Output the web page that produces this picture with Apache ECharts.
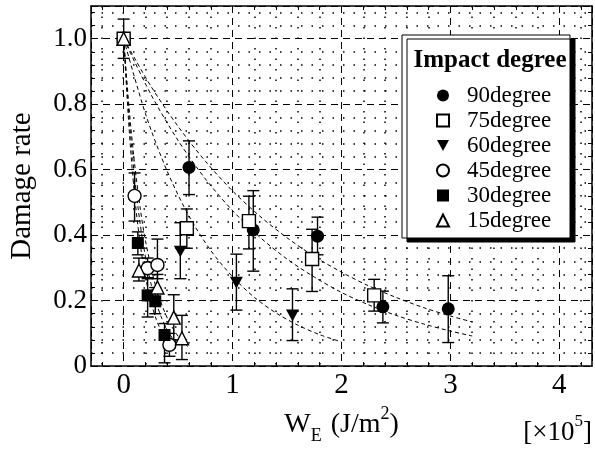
<!DOCTYPE html>
<html>
<head>
<meta charset="utf-8">
<script src="https://cdn.jsdelivr.net/npm/echarts@6/dist/echarts.min.js"></script>
<style>html,body{margin:0;padding:0;background:#fff}#c{width:595px;height:450px}</style>
</head>
<body>
<div id="c"></div>
<script>
// ---- data (x in 1e5 J/m^2, y = damage rate) ----
const seriesNames = ['90degree', '75degree', '60degree', '45degree', '30degree', '15degree'];

const pts90 = [[0, 1.0], [0.60, 0.607], [1.19, 0.416], [1.78, 0.397], [2.38, 0.181], [2.98, 0.175]];
const err90 = [[0, 0.94, 1.06], [0.60, 0.524, 0.688], [1.19, 0.29, 0.536], [1.78, 0.34, 0.455], [2.38, 0.132, 0.229], [2.98, 0.072, 0.276]];

const pts75 = [[0, 1.0], [0.58, 0.421], [1.15, 0.443], [1.73, 0.327], [2.30, 0.216]];
const err75 = [[0.58, 0.36, 0.48], [1.15, 0.358, 0.519], [1.73, 0.228, 0.418], [2.30, 0.168, 0.265]];

const pts60 = [[0, 1.0], [0.52, 0.35], [1.035, 0.255], [1.55, 0.155]];
const err60 = [[0.52, 0.267, 0.438], [1.035, 0.171, 0.342], [1.55, 0.078, 0.236]];

const pts45 = [[0, 1.0], [0.10, 0.52], [0.22, 0.299], [0.31, 0.309], [0.42, 0.065]];
const err45 = [[0.10, 0.443, 0.59], [0.22, 0.27, 0.33], [0.31, 0.267, 0.388], [0.42, 0.03, 0.10]];

const pts30 = [[0, 1.0], [0.13, 0.376], [0.22, 0.216], [0.29, 0.198], [0.375, 0.095]];
const err30 = [[0.13, 0.34, 0.41], [0.22, 0.15, 0.267], [0.29, 0.16, 0.24], [0.375, 0.01, 0.13]];

const pts15 = [[0, 1.0], [0.14, 0.292], [0.31, 0.24], [0.46, 0.148], [0.535, 0.085]];
const err15 = [[0.14, 0.26, 0.33], [0.31, 0.20, 0.28], [0.46, 0.08, 0.218], [0.535, 0.02, 0.155]];

// fitted curves
const fit90 = [[0, 1], [0.25, 0.855], [0.5, 0.732], [0.75, 0.626], [1, 0.535], [1.25, 0.458], [1.5, 0.392], [1.75, 0.335], [2, 0.287], [2.25, 0.245], [2.5, 0.210], [2.75, 0.179], [3, 0.153], [3.2, 0.135]];
const fit75 = [[0, 1], [0.25, 0.830], [0.5, 0.689], [0.75, 0.572], [1, 0.475], [1.25, 0.394], [1.5, 0.327], [1.75, 0.272], [2, 0.225], [2.25, 0.187], [2.5, 0.155], [2.75, 0.129], [3, 0.107], [3.2, 0.092]];
const fit60 = [[0, 1], [0.2, 0.771], [0.4, 0.595], [0.6, 0.458], [0.8, 0.353], [1.0, 0.273], [1.2, 0.210], [1.4, 0.162], [1.6, 0.125], [1.8, 0.096], [2.0, 0.074]];
const fit45 = [[0, 1], [0.05, 0.760], [0.1, 0.577], [0.15, 0.438], [0.2, 0.333], [0.25, 0.253], [0.3, 0.192], [0.35, 0.146], [0.4, 0.111], [0.45, 0.084], [0.5, 0.064]];
const fit30 = [[0, 1], [0.05, 0.723], [0.1, 0.522], [0.15, 0.377], [0.2, 0.273], [0.25, 0.197], [0.3, 0.142], [0.35, 0.103], [0.4, 0.074], [0.45, 0.054]];
const fit15 = [[0, 1], [0.05, 0.787], [0.1, 0.619], [0.15, 0.487], [0.2, 0.383], [0.3, 0.237], [0.4, 0.147], [0.5, 0.091], [0.6, 0.056]];

const xMin = -0.3, xMax = 4.3, yMin = 0, yMax = 1.1;
// ------------------------------------------------

const FONT = '"Liberation Serif","Times New Roman",serif';
const DOWN_TRI = 'path://M0,0 L10,0 L5,9 Z';
const chart = echarts.init(document.getElementById('c'), null, {renderer: 'canvas'});

function errSeries(data) {
  return {
    type: 'custom', xAxisIndex: 0, yAxisIndex: 0, z: 1, silent: true,
    data: data,
    renderItem: function (params, api) {
      const x = api.value(0), lo = api.value(1), hi = api.value(2);
      const a = api.coord([x, lo]), b = api.coord([x, hi]);
      const w = 6;
      const st = {stroke: '#000', lineWidth: 1.4};
      return {type: 'group', children: [
        {type: 'line', shape: {x1: a[0], y1: a[1], x2: b[0], y2: b[1]}, style: st},
        {type: 'line', shape: {x1: a[0] - w, y1: a[1], x2: a[0] + w, y2: a[1]}, style: st},
        {type: 'line', shape: {x1: b[0] - w, y1: b[1], x2: b[0] + w, y2: b[1]}, style: st}
      ]};
    }
  };
}
function fitSeries(data) {
  return {type: 'line', data: data, showSymbol: false, symbol: 'none', smooth: 0.3, z: 1, silent: true,
    lineStyle: {color: '#000', width: 1, type: [4, 3]}};
}
function sc(name, data, symbol, filled, size, z) {
  return {name: name, type: 'scatter', data: data, symbol: symbol, symbolSize: size, z: z,
    symbolKeepAspect: true,
    itemStyle: {color: filled ? '#000' : '#fff', borderColor: '#000', borderWidth: filled ? 0 : 1.4, opacity: 1}};
}

const axisLabelStyle = {color: '#000', fontFamily: FONT, fontSize: 27};

const option = {
  animation: false,
  backgroundColor: '#fff',
  grid: {left: 86, right: 3, top: 6, bottom: 82, containLabel: false},
  xAxis: [{
    type: 'value', min: xMin, max: xMax, splitNumber: 5, minInterval: 1, maxInterval: 1,
    axisLine: {show: true, onZero: false, lineStyle: {color: '#000', width: 1.5}},
    axisTick: {show: true, inside: true, length: 0},
    minorTick: {show: true, splitNumber: 5, length: 4, lineStyle: {color: '#000', width: 1}},
    splitLine: {show: true, lineStyle: {color: '#000', width: 1, type: [7, 5]}},
    minorSplitLine: {show: true, lineStyle: {color: '#000', width: 1.5, type: [1.5, 9]}},
    axisLabel: {show: true, margin: 5, showMinLabel: false, showMaxLabel: false, color: '#000', fontFamily: FONT, fontSize: 29,
      formatter: function (v) { return Math.abs(v - Math.round(v)) < 1e-9 ? String(Math.round(v)) : ''; }},
    name: '{a|W}{s|E}{a| (J/m}{p|2}{a|)}', nameLocation: 'middle', nameGap: 36,
    nameTextStyle: {color: '#000', fontFamily: FONT, fontSize: 28,
      rich: {a: {fontFamily: FONT, fontSize: 28, color: '#000'},
             s: {fontFamily: FONT, fontSize: 18, color: '#000', verticalAlign: 'bottom', padding: [0, 2, 0, 0], lineHeight: 12},
             p: {fontFamily: FONT, fontSize: 18, color: '#000', verticalAlign: 'top', lineHeight: 40}}}
  }, {
    type: 'value', min: xMin, max: xMax, position: 'top', splitNumber: 5, minInterval: 1, maxInterval: 1,
    axisLine: {show: true, onZero: false, lineStyle: {color: '#000', width: 1.5}},
    axisTick: {show: true, inside: true, length: 0},
    minorTick: {show: true, splitNumber: 5, length: 4, lineStyle: {color: '#000', width: 1}},
    splitLine: {show: false}, axisLabel: {show: false}
  }],
  yAxis: [{
    type: 'value', min: yMin, max: yMax, interval: 0.2,
    axisLine: {show: true, onZero: false, lineStyle: {color: '#000', width: 1.5}},
    axisTick: {show: true, inside: true, length: 0},
    minorTick: {show: true, splitNumber: 5, length: 4, lineStyle: {color: '#000', width: 1}},
    splitLine: {show: true, lineStyle: {color: '#000', width: 1, type: [7, 5]}},
    minorSplitLine: {show: true, lineStyle: {color: '#000', width: 1.5, type: [1.5, 9]}},
    axisLabel: {margin: 4, showMaxLabel: false, ...axisLabelStyle,
      formatter: function (v) { return v === 0 ? '0' : (v > 1.05 ? '' : v.toFixed(1)); }},
    name: 'Damage rate', nameLocation: 'middle', nameGap: 54,
    nameTextStyle: {color: '#000', fontFamily: FONT, fontSize: 29}
  }, {
    type: 'value', min: yMin, max: yMax, interval: 0.2, position: 'right',
    axisLine: {show: true, onZero: false, lineStyle: {color: '#000', width: 1.5}},
    axisTick: {show: true, inside: true, length: 0},
    minorTick: {show: true, splitNumber: 5, length: 4, lineStyle: {color: '#000', width: 1}},
    splitLine: {show: false}, axisLabel: {show: false}
  }],
  legend: {
    data: seriesNames, orient: 'vertical', left: 431, top: 79, z: 30,
    itemWidth: 12, itemHeight: 12, itemGap: 2,
    textStyle: {color: '#000', fontFamily: FONT, fontSize: 23, lineHeight: 22, padding: [0, 0, 0, 13]},
    selectedMode: false
  },
  graphic: [
    {type: 'rect', z: 20, shape: {x: 402, y: 35, width: 168, height: 203},
      style: {fill: '#fff', stroke: '#000', lineWidth: 1, shadowColor: '#000', shadowBlur: 0, shadowOffsetX: 5, shadowOffsetY: 4}},
    {type: 'text', z: 31, x: 490, y: 61,
      style: {text: 'Impact degree', fill: '#000', font: 'bold 25px "Liberation Serif", serif', textAlign: 'center', textVerticalAlign: 'middle'}},
    {type: 'text', z: 31, x: 592, y: 433,
      style: {rich: {a: {fontFamily: FONT, fontSize: 27, fill: '#000'}, p: {fontFamily: FONT, fontSize: 17, fill: '#000', verticalAlign: 'top', lineHeight: 40}},
        text: '{a|[×10}{p|5}{a|]}', fill: '#000', textAlign: 'right', textVerticalAlign: 'middle'}}
  ],
  series: [
    fitSeries(fit90), fitSeries(fit75), fitSeries(fit60), fitSeries(fit45), fitSeries(fit30), fitSeries(fit15),
    errSeries(err90), errSeries(err75), errSeries(err60), errSeries(err45), errSeries(err30), errSeries(err15),
    sc('90degree', pts90, 'circle', true, 13, 3),
    sc('75degree', pts75, 'rect', false, 13, 6),
    sc('60degree', pts60, DOWN_TRI, true, 13, 3),
    sc('45degree', pts45, 'circle', false, 13, 3),
    sc('30degree', pts30, 'rect', true, 12, 3),
    sc('15degree', pts15, 'triangle', false, 13, 7)
  ]
};
chart.setOption(option);
</script>
</body>
</html>
